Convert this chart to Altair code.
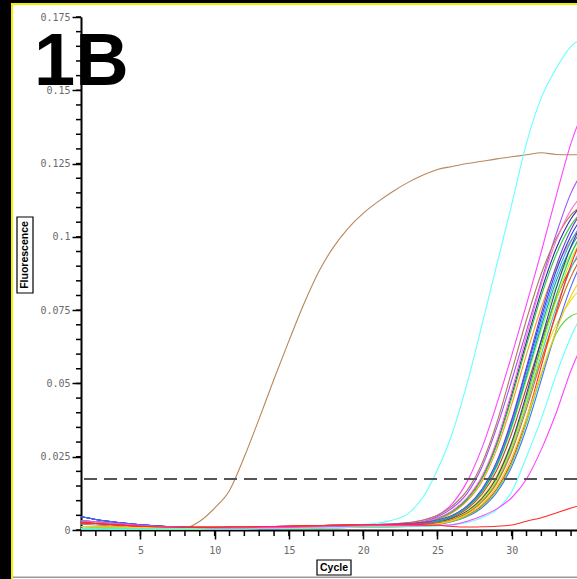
import altair as alt
import pandas as pd

# ---------------- data ----------------
cycles = [1, 2, 3, 4, 5, 6, 7, 8, 9, 10, 11, 12, 13, 14, 15, 16, 17, 18, 19, 20,
          21, 22, 23, 24, 25, 26, 27, 28, 29, 30, 31, 32, 33, 34, 35]

brown_early = [0.0020, 0.0017, 0.0014, 0.0011, 0.0008, 0.0006, 0.0005, 0.0007, 0.0030, 0.0075,
               0.0135, 0.0250, 0.0380, 0.0515, 0.0645, 0.0770, 0.0880, 0.0965, 0.1030, 0.1080,
               0.1120, 0.1155, 0.1185, 0.1210, 0.1230, 0.1240, 0.1250, 0.1258, 0.1266, 0.1273,
               0.1280, 0.1287, 0.1281, 0.1280, 0.1280]
cyan_early = [0.0010, 0.0009, 0.0008, 0.0007, 0.0006, 0.0006, 0.0005, 0.0005, 0.0005, 0.0006,
              0.0006, 0.0007, 0.0008, 0.0009, 0.0010, 0.0011, 0.0012, 0.0014, 0.0016, 0.0019,
              0.0024, 0.0034, 0.0055, 0.0110, 0.0205, 0.0330, 0.0500, 0.0700, 0.0905, 0.1110,
              0.1320, 0.1475, 0.1575, 0.1650, 0.1680]

# baselines, cycles 1-20
base_hi = [0.0045, 0.0036, 0.0029, 0.0023, 0.0018, 0.0014, 0.0011, 0.0009, 0.0008, 0.0007,
           0.0007, 0.0007, 0.0007, 0.0008, 0.0008, 0.0009, 0.0010, 0.0011, 0.0012, 0.0013]
base_mid = [0.0032, 0.0028, 0.0024, 0.0020, 0.0016, 0.0013, 0.0011, 0.0009, 0.0008, 0.0007,
            0.0007, 0.0007, 0.0008, 0.0008, 0.0009, 0.0010, 0.0011, 0.0012, 0.0013, 0.0014]
base_low = [0.0012, 0.0011, 0.0010, 0.0009, 0.0008, 0.0007, 0.0006, 0.0006, 0.0005, 0.0005,
            0.0005, 0.0006, 0.0006, 0.0007, 0.0007, 0.0008, 0.0009, 0.0010, 0.0011, 0.0012]
base_red = [0.0025, 0.0022, 0.0019, 0.0016, 0.0013, 0.0011, 0.0010, 0.0009, 0.0009, 0.0009,
            0.0010, 0.0010, 0.0011, 0.0012, 0.0013, 0.0014, 0.0015, 0.0016, 0.0017, 0.0018]
base_zero = [0.0004, 0.0004, 0.0003, 0.0003, 0.0003, 0.0003, 0.0003, 0.0003, 0.0003, 0.0004,
             0.0004, 0.0004, 0.0005, 0.0005, 0.0006, 0.0006, 0.0007, 0.0008, 0.0009, 0.0010]

# rises, cycles 21-35
rise_magenta_a = [0.0016, 0.0019, 0.0024, 0.0033, 0.0050, 0.0090, 0.0165, 0.0280, 0.0430, 0.0595, 0.0770, 0.0950, 0.1140, 0.1320, 0.1450]
rise_purple = [0.0013, 0.0016, 0.0020, 0.0028, 0.0045, 0.0075, 0.0125, 0.0215, 0.0350, 0.0510, 0.0680, 0.0850, 0.1010, 0.1150, 0.1240]
rise_tan = [0.0019, 0.0021, 0.0025, 0.0033, 0.0050, 0.0082, 0.0135, 0.0227, 0.0366, 0.0540, 0.0718, 0.0875, 0.0995, 0.1075, 0.1115]
rise_darkblue = [0.0013, 0.0015, 0.0019, 0.0026, 0.0040, 0.0064, 0.0107, 0.0178, 0.0296, 0.0460, 0.0643, 0.0816, 0.0960, 0.1062, 0.1122]
rise_orange = [0.0012, 0.0013, 0.0017, 0.0023, 0.0036, 0.0059, 0.0099, 0.0165, 0.0276, 0.0428, 0.0599, 0.0760, 0.0893, 0.0988, 0.1045]
rise_yellow = [0.0010, 0.0011, 0.0013, 0.0017, 0.0025, 0.0040, 0.0066, 0.0112, 0.0186, 0.0300, 0.0440, 0.0580, 0.0700, 0.0785, 0.0840]
rise_green = [0.0015, 0.0016, 0.0019, 0.0025, 0.0038, 0.0062, 0.0104, 0.0174, 0.0290, 0.0450, 0.0630, 0.0800, 0.0940, 0.1040, 0.1100]
rise_pink = [0.0015, 0.0017, 0.0020, 0.0027, 0.0041, 0.0066, 0.0110, 0.0183, 0.0305, 0.0473, 0.0662, 0.0840, 0.0987, 0.1092, 0.1155]
rise_blue = [0.0013, 0.0014, 0.0016, 0.0021, 0.0031, 0.0049, 0.0081, 0.0137, 0.0230, 0.0370, 0.0546, 0.0725, 0.0884, 0.1005, 0.1085]
rise_lime = [0.0012, 0.0012, 0.0015, 0.0019, 0.0029, 0.0046, 0.0076, 0.0128, 0.0216, 0.0348, 0.0513, 0.0682, 0.0831, 0.0945, 0.1021]
rise_violet = [0.0019, 0.0020, 0.0022, 0.0026, 0.0034, 0.0050, 0.0082, 0.0139, 0.0234, 0.0377, 0.0556, 0.0740, 0.0901, 0.1025, 0.1107]
rise_darkred = [0.0019, 0.0019, 0.0020, 0.0022, 0.0028, 0.0043, 0.0072, 0.0122, 0.0204, 0.0329, 0.0486, 0.0646, 0.0788, 0.0896, 0.0968]
rise_lightblue = [0.0010, 0.0011, 0.0014, 0.0019, 0.0029, 0.0047, 0.0079, 0.0134, 0.0225, 0.0362, 0.0535, 0.0711, 0.0866, 0.0985, 0.1064]
rise_teal = [0.0012, 0.0013, 0.0015, 0.0020, 0.0029, 0.0047, 0.0078, 0.0131, 0.0220, 0.0355, 0.0524, 0.0696, 0.0849, 0.0965, 0.1043]
rise_green2 = [0.0015, 0.0015, 0.0016, 0.0018, 0.0025, 0.0038, 0.0062, 0.0104, 0.0174, 0.0290, 0.0450, 0.0630, 0.0800, 0.0940, 0.1040]
rise_cyan2 = [0.0010, 0.0011, 0.0013, 0.0016, 0.0023, 0.0036, 0.0059, 0.0099, 0.0165, 0.0276, 0.0428, 0.0599, 0.0760, 0.0893, 0.0988]
rise_navy = [0.0013, 0.0013, 0.0014, 0.0018, 0.0025, 0.0039, 0.0064, 0.0107, 0.0179, 0.0299, 0.0464, 0.0649, 0.0824, 0.0968, 0.1071]
rise_ygreen = [0.0012, 0.0012, 0.0013, 0.0017, 0.0024, 0.0037, 0.0061, 0.0102, 0.0171, 0.0284, 0.0441, 0.0617, 0.0784, 0.0921, 0.1019]
rise_obrown = [0.0019, 0.0019, 0.0019, 0.0020, 0.0024, 0.0035, 0.0057, 0.0096, 0.0160, 0.0267, 0.0414, 0.0580, 0.0736, 0.0865, 0.0957]
rise_red = [0.0019, 0.0019, 0.0019, 0.0020, 0.0023, 0.0031, 0.0050, 0.0083, 0.0140, 0.0235, 0.0380, 0.0560, 0.0745, 0.0905, 0.1030]
rise_blue2 = [0.0013, 0.0013, 0.0013, 0.0015, 0.0019, 0.0029, 0.0046, 0.0076, 0.0128, 0.0216, 0.0348, 0.0513, 0.0682, 0.0831, 0.0945]
rise_greenlow = [0.0010, 0.0011, 0.0012, 0.0015, 0.0020, 0.0030, 0.0048, 0.0080, 0.0135, 0.0227, 0.0366, 0.0530, 0.0670, 0.0730, 0.0745]
rise_yellow2 = [0.0012, 0.0012, 0.0013, 0.0015, 0.0021, 0.0032, 0.0053, 0.0088, 0.0148, 0.0247, 0.0383, 0.0536, 0.0680, 0.0799, 0.0884]
rise_cyan_late = [0.0010, 0.0010, 0.0011, 0.0012, 0.0014, 0.0018, 0.0026, 0.0042, 0.0070, 0.0130, 0.0250, 0.0380, 0.0530, 0.0660, 0.0760]
rise_magenta_late = [0.0015, 0.0015, 0.0015, 0.0015, 0.0016, 0.0018, 0.0030, 0.0048, 0.0072, 0.0110, 0.0174, 0.0275, 0.0400, 0.0545, 0.0660]
rise_red_late = [0.0018, 0.0018, 0.0018, 0.0017, 0.0016, 0.0012, 0.0010, 0.0011, 0.0013, 0.0017, 0.0030, 0.0042, 0.0058, 0.0075, 0.0090]

series_names = ["S01", "S02", "S03", "S04", "S05", "S06", "S07", "S08", "S09", "S10",
                "S11", "S12", "S13", "S14", "S15", "S16", "S17", "S18", "S19", "S20",
                "S21", "S22", "S23", "S24", "S25", "S26", "S27", "S28"]
series_colors = ["#b8875c", "#66ffff", "#ff44ff", "#a050ff", "#b07a50", "#2a2ab0", "#ff9a1a",
                 "#e8e020", "#33cc33", "#ff6fcf", "#1f3fff", "#8cff3a", "#7040d0", "#c83c3c",
                 "#3aa0ff", "#14a0a0", "#20c070", "#40d0d0", "#3a3a90", "#c8f000", "#d07020",
                 "#ff2a2a", "#4070ff", "#5cd840", "#ffc820", "#66ffff", "#ff44ff", "#ff2a2a"]
series_values = [
    brown_early, cyan_early,
    base_mid + rise_magenta_a, base_low + rise_purple, base_red + rise_tan,
    base_hi + rise_darkblue, base_low + rise_orange, base_zero + rise_yellow,
    base_mid + rise_green, base_mid + rise_pink, base_hi + rise_blue,
    base_low + rise_lime, base_red + rise_violet, base_red + rise_darkred,
    base_zero + rise_lightblue, base_low + rise_teal, base_mid + rise_green2,
    base_zero + rise_cyan2, base_hi + rise_navy, base_low + rise_ygreen,
    base_red + rise_obrown, base_red + rise_red, base_hi + rise_blue2,
    base_zero + rise_greenlow, base_low + rise_yellow2, base_zero + rise_cyan_late,
    base_mid + rise_magenta_late, base_red + rise_red_late,
]

threshold = [0.0174]
x_major = [5, 10, 15, 20, 25, 30]
x_minor = [1, 2, 3, 4, 5, 6, 7, 8, 9, 10, 11, 12, 13, 14, 15, 16, 17, 18, 19, 20,
           21, 22, 23, 24, 25, 26, 27, 28, 29, 30, 31, 32, 33, 34]
y_major = [0, 0.025, 0.05, 0.075, 0.1, 0.125, 0.15, 0.175]
y_minor = [0, 0.005, 0.01, 0.015, 0.02, 0.025, 0.03, 0.035, 0.04, 0.045, 0.05, 0.055,
           0.06, 0.065, 0.07, 0.075, 0.08, 0.085, 0.09, 0.095, 0.1, 0.105, 0.11, 0.115,
           0.12, 0.125, 0.13, 0.135, 0.14, 0.145, 0.15, 0.155, 0.16, 0.165, 0.17, 0.175]
panel_label = ["1B"]
x_title = ["Cycle"]
y_title = ["Fluorescence"]

# ---------------- build table ----------------
rows = []
for name, vals in zip(series_names, series_values):
    for c, v in zip(cycles, vals):
        rows.append({"series": name, "cycle": c, "fluor": v})
df = pd.DataFrame(rows)

W, H = 496, 513
one = pd.DataFrame({"k": [0]})

xscale = alt.Scale(domain=[1, 34.4], nice=False, zero=False)
yscale = alt.Scale(domain=[0, 0.175], nice=False, zero=True)

x_axis = alt.Axis(
    values=x_major, title=None, grid=False, format="d",
    tickSize=9, tickColor="black", tickWidth=1.5, domainColor="black", domainWidth=2,
    labelFont="DejaVu Sans Mono", labelFontSize=10, labelColor="#6a6a6a",
    labelPadding=6, labelOverlap=False, labelFlush=False,
)
y_axis = alt.Axis(
    values=y_major, title=None, grid=False, format=".3~f",
    tickSize=9, tickColor="black", tickWidth=1.5, domainColor="black", domainWidth=2,
    labelFont="DejaVu Sans Mono", labelFontSize=10, labelColor="#6a6a6a",
    labelPadding=2, labelOverlap=False, labelFlush=False,
)

lines = alt.Chart(df).mark_line(strokeWidth=1.1, clip=True, interpolate="monotone").encode(
    x=alt.X("cycle:Q", scale=xscale, axis=x_axis),
    y=alt.Y("fluor:Q", scale=yscale, axis=y_axis),
    color=alt.Color("series:N", scale=alt.Scale(domain=series_names, range=series_colors), legend=None),
)

thr = alt.Chart(pd.DataFrame({"fluor": threshold})).mark_rule(
    color="#555555", strokeWidth=2, strokeDash=[13, 7]
).encode(y=alt.Y("fluor:Q", scale=yscale, axis=y_axis))

# minor ticks
y_minor_ticks = alt.Chart(pd.DataFrame({"fluor": y_minor})).mark_rule(
    color="black", strokeWidth=1.5
).encode(y=alt.Y("fluor:Q", scale=yscale, axis=y_axis), x=alt.value(-5), x2=alt.value(0))
x_minor_ticks = alt.Chart(pd.DataFrame({"cycle": x_minor})).mark_rule(
    color="black", strokeWidth=1.5
).encode(x=alt.X("cycle:Q", scale=xscale, axis=x_axis), y=alt.value(H), y2=alt.value(H + 6))

# frame decoration
black_band = alt.Chart(one).mark_rect(color="black").encode(
    x=alt.value(-81), x2=alt.value(-70), y=alt.value(-17), y2=alt.value(562))
top_band = alt.Chart(one).mark_rect(color="black").encode(
    x=alt.value(-81), x2=alt.value(496), y=alt.value(-17), y2=alt.value(-14))
yellow_v = alt.Chart(one).mark_rect(color="#f0f000").encode(
    x=alt.value(-70), x2=alt.value(-68), y=alt.value(-14), y2=alt.value(562))
yellow_h = alt.Chart(one).mark_rect(color="#f0f000").encode(
    x=alt.value(-70), x2=alt.value(496), y=alt.value(-14), y2=alt.value(-12))
bottom_line = alt.Chart(one).mark_rect(color="#999999").encode(
    x=alt.value(-68), x2=alt.value(496), y=alt.value(559.5), y2=alt.value(561))

big = alt.Chart(pd.DataFrame({"t": panel_label})).mark_text(
    font="Liberation Sans", fontSize=74, fontWeight="bold", align="left",
    baseline="alphabetic", color="black"
).encode(text="t:N", x=alt.value(-47), y=alt.value(68))

ybox = alt.Chart(one).mark_rect(fill="white", stroke="black", strokeWidth=1.2).encode(
    x=alt.value(-64), x2=alt.value(-48), y=alt.value(200), y2=alt.value(276))
ytext = alt.Chart(pd.DataFrame({"t": y_title})).mark_text(
    font="Liberation Sans", fontSize=10.5, fontWeight="bold", angle=270,
    align="center", baseline="middle", color="black"
).encode(text="t:N", x=alt.value(-56), y=alt.value(238))

xbox = alt.Chart(one).mark_rect(fill="white", stroke="black", strokeWidth=1.2).encode(
    x=alt.value(236), x2=alt.value(270), y=alt.value(543), y2=alt.value(558))
xtext = alt.Chart(pd.DataFrame({"t": x_title})).mark_text(
    font="Liberation Sans", fontSize=10.5, fontWeight="bold",
    align="center", baseline="middle", color="black"
).encode(text="t:N", x=alt.value(253), y=alt.value(550.5))

chart = alt.layer(
    lines, thr, y_minor_ticks, x_minor_ticks, black_band, top_band, yellow_v, yellow_h,
    bottom_line, big, ybox, ytext, xbox, xtext
).properties(
    width=W, height=H,
    autosize=alt.AutoSizeParams(type="none"),
    padding={"left": 81, "top": 17, "right": 0, "bottom": 49},
    background="white",
).configure_view(strokeWidth=0)

chart.save("out.html", embed_options={"renderer": "svg", "actions": False})
